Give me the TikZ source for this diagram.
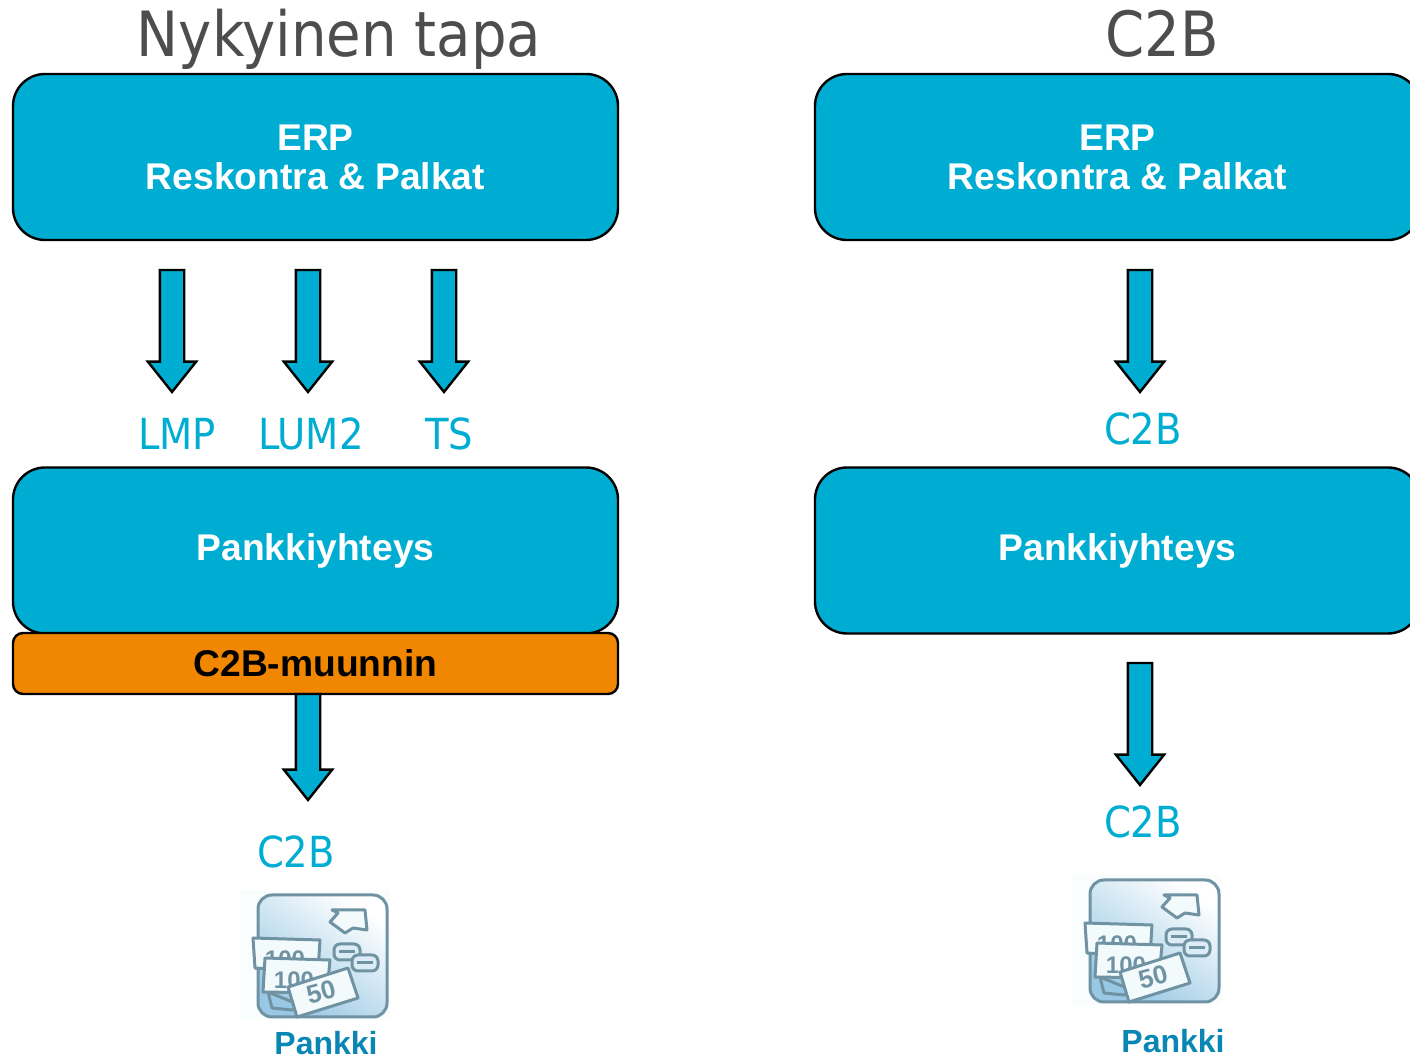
\documentclass[tikz,border=0pt]{standalone}
\usepackage{fontspec}
\setmainfont{Liberation Sans}
\newfontfamily\labelfont{DejaVu Sans Condensed}
\usetikzlibrary{shapes.arrows}
\definecolor{boxblue}{HTML}{00ADD2}
\definecolor{boxorange}{HTML}{F18700}
\definecolor{titlegray}{HTML}{4D4D4D}
\definecolor{bankblue}{HTML}{0A86B4}
\definecolor{iconline}{HTML}{7093A3}
\definecolor{iconblue}{HTML}{98C8E4}
\definecolor{iconpale}{HTML}{F3FAFC}
\tikzset{
  mainbox/.style={rectangle,rounded corners=16pt,draw=black,line width=1.2pt,fill=boxblue,
    text=white,align=center,font=\fontsize{18.6}{19.5}\selectfont\bfseries,
    minimum width=302.5pt,minimum height=83pt,inner sep=0pt},
  convbox/.style={rectangle,rounded corners=5pt,draw=black,line width=1.2pt,fill=boxorange,
    font=\fontsize{18.6}{19.5}\selectfont\bfseries,minimum width=302.5pt,minimum height=30.5pt,inner sep=0pt},
  downarrow/.style={single arrow,draw=black,line width=1.2pt,fill=boxblue,shape border rotate=270,
    single arrow head extend=6pt,single arrow head indent=0pt,single arrow tip angle=77,
    minimum width=22pt,inner xsep=5.5pt,inner ysep=0pt,outer sep=0pt,anchor=north},
  titletext/.style={text=titlegray,anchor=base,font=\labelfont\fontsize{31.2}{36}\selectfont},
  formattext/.style={text=boxblue,font=\labelfont\fontsize{21.4}{24}\selectfont},
  banktext/.style={text=bankblue,font=\fontsize{16}{18}\selectfont\bfseries},
  iconstroke/.style={draw=iconline,line width=1.5pt,line join=round},
  pics/pankkiicon/.style={code={
    \fill[iconpale,opacity=.45] (10,10) rectangle (160,140);
    \draw[iconstroke,rounded corners=7pt,top color=white,bottom color=iconblue,shading angle=-35]
      (28,15) rectangle (157,137);
    \draw[iconstroke,fill=iconpale] (100,42) -- (108,33) -- (102,30) -- (135,30) -- (137,50) -- (123,48) -- (115,53) -- cycle;
    \foreach \x/\y in {117/72,135/83}{
      \draw[iconstroke,fill=iconblue!35,rounded corners=3pt] (\x-13,\y-8) rectangle (\x+13,\y+8);
      \draw[iconstroke] (\x-8,\y) -- (\x+8,\y);
    }
    \draw[iconstroke,fill=iconblue] (38,112) -- (70,125) -- (62,130) -- (42,128) -- cycle;
    \draw[iconstroke,fill=iconpale] (23,58) -- (90,60) -- (88,92) -- (25,88) -- cycle;
    \node[text=iconline,font=\fontsize{12}{12}\selectfont\bfseries] at (55,79) {100};
    \draw[iconstroke,fill=iconpale] (35,78) -- (100,80) -- (97,113) -- (33,112) -- cycle;
    \node[text=iconline,font=\fontsize{12}{12}\selectfont\bfseries] at (64,100) {100};
    \draw[iconstroke,fill=iconpale] (58,107) -- (118,88) -- (128,118) -- (67,137) -- cycle;
    \node[text=iconline,rotate=15,font=\fontsize{13}{13}\selectfont\bfseries] at (91,112) {50};
  }}
}
\begin{document}
\begin{tikzpicture}[x=0.5pt,y=-0.5pt]
  \useasboundingbox (0,0) rectangle (1410,1058);
  \clip (0,0) rectangle (1410,1058);
  \node (title1) [titletext] at (339,57) {Nykyinen tapa};
  \node (title2) [titletext] at (1162,57) {C2B};
  \foreach \n/\x in {1/315.5,2/1117.5}{
    \node (erp\n) [mainbox] at (\x,157) {ERP\\Reskontra \& Palkat};
    \node (yhteys\n) [mainbox] at (\x,550.5) {Pankkiyhteys};
  }
  \node (muunnin) [convbox] at (315.5,663.5) {C2B-muunnin};
  \foreach \n/\x/\y/\h in {a/172/270/61,b/308/270/61,c/444/270/61,d/308/694/53,e/1140/270/61,f/1140/663/61}{
    \node (arrow\n) [downarrow,minimum height=\h pt] at (\x,\y) {};
  }
  \foreach \n/\t/\x/\y in {lmp/LMP/177/434,lum/LUM2/311/434,ts/TS/449/434,cb/C2B/296/852,cc/C2B/1143/429,cd/C2B/1143/822}{
    \node (\n) [formattext] at (\x,\y) {\t};
  }
  \pic (icon1) at (230,880) {pankkiicon};
  \pic (icon2) at (1062,865) {pankkiicon};
  \node (pankki1) [banktext] at (326,1043) {Pankki};
  \node (pankki2) [banktext] at (1173,1041) {Pankki};
\end{tikzpicture}
\end{document}
